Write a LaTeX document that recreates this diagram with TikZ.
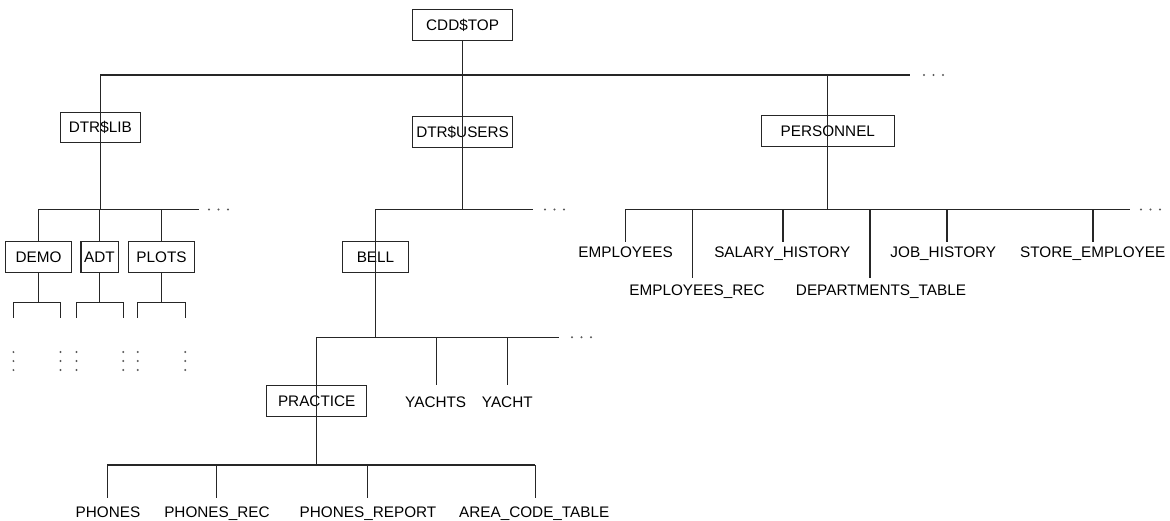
\documentclass[tikz,border=0pt]{standalone}
\usepackage{fontspec}
\setmainfont{Liberation Sans}
\begin{document}
\begin{tikzpicture}[
  x=1pt, y=-1pt,
  lbl/.style={font=\fontsize{15.3}{18}\selectfont, text=black},
  wire/.style={line width=1.1pt, draw=black!85},
  box/.style={lbl, draw=black!85, line width=1.1pt, minimum height=30.5pt, inner sep=0pt},
  leaf/.style={lbl, inner sep=0pt, text height=11pt, text depth=0pt, outer ysep=#1},
  leaf/.default=6pt,
  hellip/.pic={\fill[black!65] (0,0) circle (1.1) (9.5,0) circle (1.1) (19,0) circle (1.1);},
  vellip/.pic={\fill[black!65] (0,0) circle (1.1) (0,9) circle (1.1) (0,18) circle (1.1);}
]
\useasboundingbox (0,0) rectangle (1170,521);

% ---------- root and first level ----------
\node[box, minimum width=100pt] (top) at (462.6,25) {CDD\$TOP};
\coordinate (busL) at (100.3,75);
\coordinate (busR) at (910,75);
\draw[wire] (busL) -- (busR);
\draw[wire] (top.south) -- (top |- busL);
\pic at (924,75) {hellip};

\node[box, minimum width=79.5pt] (lib) at (100.3,127.5) {DTR\$LIB};
\node[box, minimum width=100pt] (users) at (462.6,132) {DTR\$USERS};
\node[box, minimum width=133pt] (pers) at (827.8,131) {PERSONNEL};

% ---------- DTR$LIB subtree ----------
\coordinate (libL) at (38.5,209.5);
\coordinate (libR) at (199,209.5);
\draw[wire] (libL) -- (libR);
\draw[wire] (lib |- busL) -- (lib |- libL);
\pic at (209,209.5) {hellip};

\node[box, minimum width=66.2pt] (demo) at (38.5,257) {DEMO};
\node[box, minimum width=37.1pt] (adt) at (99.5,257) {ADT};
\node[box, minimum width=66.6pt] (plots) at (161.5,257) {PLOTS};
\foreach \n in {demo,adt,plots}
  \draw[wire] (\n |- libL) -- (\n.north);

% small stubs below each library entry
\coordinate (demoL) at (13.4,302.3);  \coordinate (demoR) at (60.5,302.3);
\coordinate (adtL)  at (76.5,302.3);  \coordinate (adtR)  at (123.2,302.3);
\coordinate (plotsL) at (137.8,302.3); \coordinate (plotsR) at (185.2,302.3);
\foreach \n in {demo,adt,plots}{
  \draw[wire] (\n.south) -- (\n |- \n L);
  \draw[wire] ([yshift=-15.5pt]\n L) -- (\n L) -- (\n R) -- ([yshift=-15.5pt]\n R);
  \pic at ([yshift=-49.7pt]\n L) {vellip};
  \pic at ([yshift=-49.7pt]\n R) {vellip};
}

% ---------- DTR$USERS subtree ----------
\coordinate (usrL) at (375.5,209.5);
\coordinate (usrR) at (532.7,209.5);
\draw[wire] (usrL) -- (usrR);
\draw[wire] (top |- busL) -- (users |- usrL);
\pic at (545,209.5) {hellip};

\node[box, minimum width=66.3pt] (bell) at (375.5,257) {BELL};
\coordinate (bellL) at (316.7,337.3);
\coordinate (bellR) at (558.7,337.3);
\draw[wire] (bellL) -- (bellR);
\draw[wire] (usrL) -- (bell |- bellL);
\pic at (572,337.3) {hellip};

\node[box, minimum width=100pt] (prac) at (316.7,401) {PRACTICE};
\node[leaf=11pt] (yachts) at (435.7,401.7) {YACHTS};
\node[leaf=11pt] (yacht) at (507.3,401.7) {YACHT};
\coordinate (yachts-j) at (436.5,337.3);
\coordinate (yacht-j) at (507.7,337.3);
\draw[wire] (yachts-j) -- (yachts-j |- yachts.north);
\draw[wire] (yacht-j) -- (yacht-j |- yacht.north);

\coordinate (pracL) at (107.4,465);
\coordinate (pracR) at (535.3,465);
\draw[wire] (pracL) -- (pracR);
\draw[wire] (bellL) -- (prac |- pracL);

\node[leaf=8pt] (phones) at (108,511.7) {PHONES};
\node[leaf=8pt] (phrec) at (217,511.7) {PHONES\_REC};
\node[leaf=8pt] (phrep) at (368,511.7) {PHONES\_REPORT};
\node[leaf=8pt] (area) at (534.2,511.7) {AREA\_CODE\_TABLE};
\coordinate (phones-j) at (107.4,465);
\coordinate (phrec-j) at (216.9,465);
\coordinate (phrep-j) at (367.6,465);
\coordinate (area-j) at (535.3,465);
\foreach \n in {phones,phrec,phrep,area}
  \draw[wire] (\n-j) -- (\n-j |- \n.north);

% ---------- PERSONNEL subtree ----------
\coordinate (perL) at (625.4,209.5);
\coordinate (perR) at (1130,209.5);
\draw[wire] (perL) -- (perR);
\draw[wire] (pers |- busL) -- (pers |- perL);
\pic at (1141,209.5) {hellip};

\node[leaf=5.3pt] (emp) at (625.6,252.5) {EMPLOYEES};
\node[leaf=6.5pt] (emprec) at (697,290) {EMPLOYEES\_REC};
\node[leaf=5.3pt] (sal) at (782.3,252.5) {SALARY\_HISTORY};
\node[leaf=6.5pt] (dept) at (881,290) {DEPARTMENTS\_TABLE};
\node[leaf=5.3pt] (job) at (943.3,252.5) {JOB\_HISTORY};
\node[leaf=5.3pt] (store) at (1092.7,252.5) {STORE\_EMPLOYEE};
\coordinate (emp-j) at (625.4,209.5);
\coordinate (emprec-j) at (692.7,209.5);
\coordinate (sal-j) at (783,209.5);
\coordinate (dept-j) at (870,209.5);
\coordinate (job-j) at (947,209.5);
\coordinate (store-j) at (1093,209.5);
\foreach \n in {emp,emprec,sal,dept,job,store}
  \draw[wire] (\n-j) -- (\n-j |- \n.north);
\end{tikzpicture}
\end{document}
